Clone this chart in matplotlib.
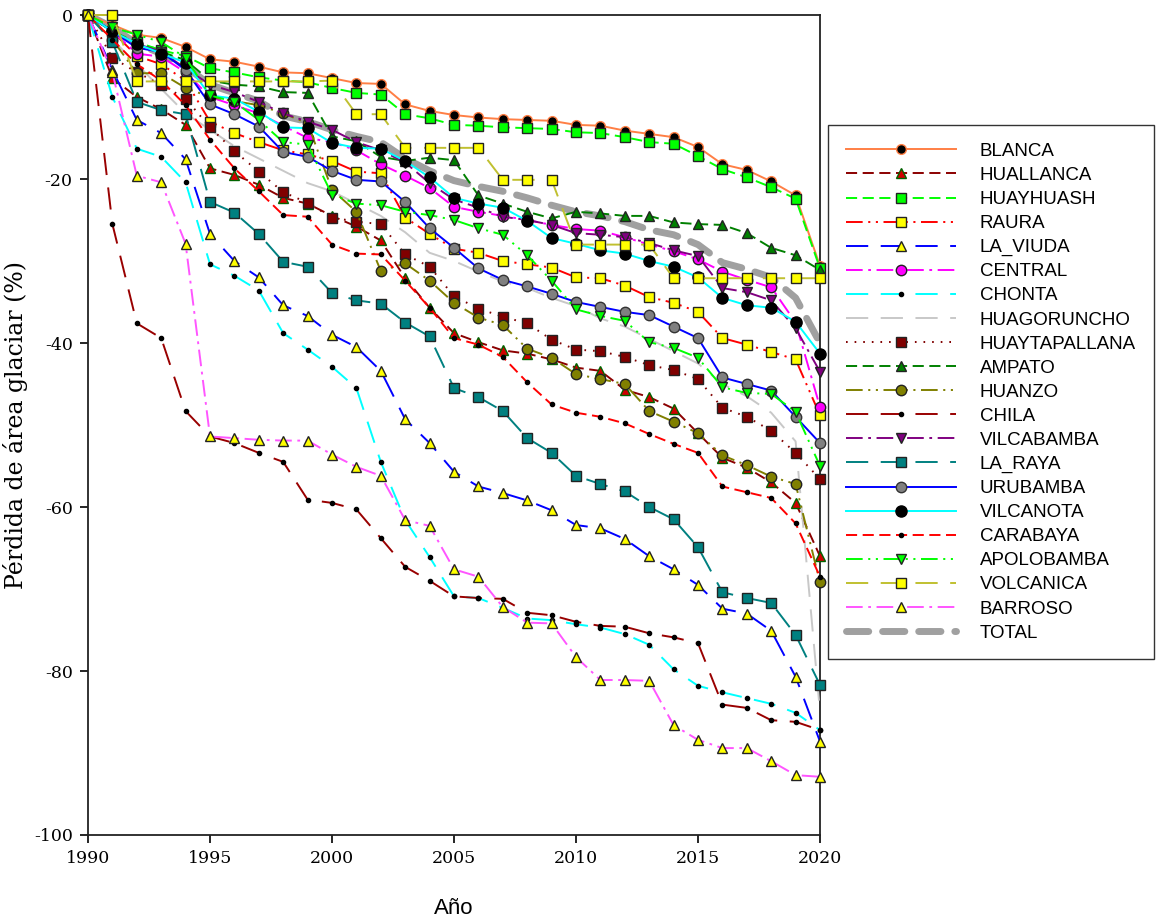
import matplotlib
matplotlib.use("Agg")
import matplotlib.pyplot as plt

plt.rcParams['lines.scale_dashes'] = False
plt.rcParams['axes.unicode_minus'] = False

years = list(range(1990, 2021))

blanca = [0, -1.2, -2.4, -2.8, -3.9, -5.4, -5.7, -6.3, -7.0, -7.1, -7.7, -8.3, -8.4, -10.9, -11.7, -12.2,
          -12.5, -12.7, -12.8, -12.9, -13.4, -13.5, -14.1, -14.5, -14.9, -16.1, -18.2, -18.9, -20.3, -22.0, -30.6]
huallanca = [0, -7.7, -10, -11.5, -13.4, -18.7, -19.5, -20.7, -22.3, -23, -24.5, -25.8, -27.5, -32.1, -35.7, -38.8,
             -39.9, -40.9, -41.3, -42, -43, -43.4, -45.7, -46.6, -48, -51, -54, -55.2, -57, -59.5, -66]
huayhuash = [0, -2, -3.3, -4.3, -5, -6.5, -7, -7.6, -8, -8.2, -8.9, -9.5, -9.7, -12.1, -12.6, -13.4,
             -13.5, -13.7, -13.8, -13.9, -14.3, -14.4, -14.9, -15.5, -15.7, -17.2, -18.8, -19.8, -21, -22.4, -30.9]
raura = [0, -2, -5, -6, -8, -13, -14.4, -15.5, -16.5, -17, -17.8, -19.1, -19.3, -24.7, -26.7, -28.5,
         -29, -30, -30.4, -30.8, -32, -32.1, -33, -34.4, -35.1, -36.2, -39.4, -40.2, -41.1, -42, -48.8]
la_viuda = [0, -6.7, -12.8, -14.4, -17.6, -26.7, -30, -32, -35.4, -36.7, -39, -40.5, -43.4, -49.3, -52.2, -55.7,
            -57.5, -58.3, -59.2, -60.4, -62.2, -62.6, -63.9, -66, -67.6, -69.5, -72.4, -73, -75.1, -80.7, -88.6]
central = [0, -2, -4.7, -5.1, -7, -10, -11, -12, -13.5, -15, -15.5, -16.5, -18.2, -19.6, -21.1, -23.4,
           -24, -24.5, -25, -25.6, -26.1, -26.3, -27.1, -28, -28.8, -29.8, -31.3, -32.3, -33.2, -37.5, -47.8]
chonta = [0, -10, -16.3, -17.3, -20.4, -30.4, -31.8, -33.6, -38.8, -40.8, -42.9, -45.5, -54.5, -61.6, -66.1, -70.9,
          -71.1, -72.3, -73.6, -73.8, -74.3, -74.7, -75.5, -76.8, -79.8, -81.8, -82.6, -83.3, -84, -85.1, -87.2]
huagoruncho = [0, -3, -6, -9, -12, -14, -16, -17.5, -19, -20.5, -21.5, -23, -24.5, -26.5, -29, -30,
               -31.3, -32.5, -33.3, -34.5, -35.5, -37, -38, -39.5, -41, -42.5, -45, -46.5, -48.5, -52, -85]
huaytapallana = [0, -5.2, -7, -8.5, -10.2, -13.7, -16.6, -19.1, -21.6, -22.9, -24.7, -25.2, -25.5, -29.2, -30.7, -34.3,
                 -35.8, -36.8, -37.6, -39.6, -40.8, -41, -41.7, -42.7, -43.3, -44.4, -47.9, -49, -50.7, -53.4, -56.6]
ampato = [0, -2, -3.5, -4.5, -5.5, -8, -8.5, -8.7, -9.4, -9.5, -14.8, -15.4, -17.3, -17.8, -17.4, -17.7,
          -22, -23, -24, -24.8, -24, -24.2, -24.5, -24.5, -25.3, -25.5, -25.6, -26.6, -28.4, -29.3, -31.1]
huanzo = [0, -3, -7.1, -7.1, -8.9, -10, -10.5, -11, -12, -13.2, -21.3, -24, -31.2, -30.3, -32.4, -35.1,
          -36.9, -37.8, -40.7, -41.8, -43.8, -44.4, -45, -48.3, -49.6, -51, -53.7, -54.9, -56.3, -57.2, -69.2]
chila = [0, -25.5, -37.6, -39.4, -48.3, -51.4, -52.2, -53.4, -54.5, -59.1, -59.5, -60.3, -63.8, -67.3, -69, -70.9,
         -71.1, -71.2, -72.9, -73.2, -74, -74.5, -74.6, -75.4, -75.9, -76.6, -84.1, -84.5, -86, -86.2, -87.2]
vilcabamba = [0, -2, -3.5, -4.5, -6.5, -8.5, -9.4, -10.6, -12, -13, -14, -15.5, -16.5, -18, -20.5, -22.5,
              -23.5, -24.6, -25, -25.6, -26.6, -26.8, -27.1, -27.8, -28.7, -29.4, -33.3, -33.8, -34.8, -38.2, -43.5]
la_raya = [0, -3.3, -10.6, -11.6, -12.1, -22.8, -24.1, -26.7, -30.1, -30.7, -33.9, -34.8, -35.2, -37.5, -39.2, -45.5,
           -46.6, -48.3, -51.6, -53.4, -56.2, -57.2, -58.1, -60, -61.5, -64.9, -70.4, -71.1, -71.7, -75.6, -81.7]
urubamba = [0, -2, -4, -4.5, -6.7, -10.9, -12.1, -13.6, -16.7, -17.3, -19, -20.1, -20.3, -22.8, -26, -28.4,
            -30.9, -32.3, -33.1, -34, -35, -35.6, -36.2, -36.6, -38, -39.4, -44.2, -45, -45.8, -49, -52.2]
vilcanota = [0, -2, -3.5, -4.7, -5.8, -9.8, -10.2, -11.8, -13.7, -13.8, -15.6, -16.2, -16.3, -17.8, -19.8, -22.3,
             -23, -23.5, -25.1, -27.2, -27.9, -28.7, -29.1, -30, -30.7, -32, -34.5, -35.4, -35.7, -37.4, -41.3]
carabaya = [0, -3, -6, -8, -11, -15.2, -18.7, -21.5, -24.4, -24.6, -28, -29.1, -29.2, -32.4, -35.7, -39.4,
            -40.2, -41.7, -44.8, -47.5, -48.5, -49, -49.8, -51.1, -52.3, -53.4, -57.5, -58.2, -58.9, -62, -68.5]
apolobamba = [0, -1.5, -2.4, -3.3, -5.2, -9.8, -10.6, -12.8, -15.5, -15.8, -21.9, -23, -23.2, -24, -24.4, -25,
              -26, -26.8, -29.3, -32.4, -35.9, -36.7, -37.3, -39.9, -40.6, -41.8, -45.4, -46.1, -46.2, -48.4, -55]
volcanica = [0, 0, -8.1, -8.1, -8.1, -8.1, -8.1, -8.1, -8.1, -8.1, -8.0, -12.1, -12.1, -16.2, -16.2, -16.2,
             -16.2, -20.1, -20.1, -20.1, -28, -28, -28, -28, -32.1, -32.1, -32.1, -32.1, -32.1, -32.1, -32.1]
barroso = [0, -7, -19.6, -20.4, -27.9, -51.4, -51.6, -51.8, -51.9, -51.9, -53.6, -55.1, -56.2, -61.6, -62.3, -67.6,
           -68.5, -72.2, -74.1, -74.2, -78.3, -81.1, -81.1, -81.2, -86.6, -88.4, -89.4, -89.4, -91, -92.7, -92.9]
total = [0, -1.5, -3.5, -4.7, -6.3, -8.5, -9.5, -10.5, -12.3, -13, -14, -14.8, -15.5, -17.5, -19, -20.2,
         -20.9, -21.5, -22.3, -23.2, -24, -24.5, -25.2, -26.2, -26.8, -28, -30.2, -31, -32, -34.5, -40]

DASH = (8, 4)
LONG = (16, 9)
DASHDOT = (12, 4, 2, 4)
DASHDOTDOT = (12, 4, 1.5, 4, 1.5, 4)

# name, values, line colour, dashes, marker, face, edge, marker size
series = [
    ('BLANCA', blanca, '#FF7F45', None, 'o', 'black', '#FF7F45', 7),
    ('HUALLANCA', huallanca, '#8B0000', DASH, '^', '#D00000', '#006400', 7),
    ('HUAYHUASH', huayhuash, '#00FF00', DASH, 's', '#00FF00', '#222222', 7),
    ('RAURA', raura, '#FF0000', DASHDOTDOT, 's', '#FFFF00', '#222222', 7),
    ('LA_VIUDA', la_viuda, '#0000FF', LONG, '^', '#FFFF00', '#222222', 7.5),
    ('CENTRAL', central, '#FF00FF', DASHDOT, 'o', '#FF00FF', '#222222', 7.5),
    ('CHONTA', chonta, '#00FFFF', LONG, 'o', 'black', 'black', 3),
    ('HUAGORUNCHO', huagoruncho, '#C8C8C8', LONG, None, None, None, 0),
    ('HUAYTAPALLANA', huaytapallana, '#800000', (1.2, 5), 's', '#800000', '#222222', 7),
    ('AMPATO', ampato, '#008000', DASH, '^', '#008000', '#222222', 7),
    ('HUANZO', huanzo, '#808000', DASHDOTDOT, 'o', '#808000', '#222222', 7.5),
    ('CHILA', chila, '#990000', LONG, 'o', 'black', 'black', 3),
    ('VILCABAMBA', vilcabamba, '#800080', DASHDOT, 'v', '#800080', '#222222', 7.5),
    ('LA_RAYA', la_raya, '#008080', LONG, 's', '#008080', '#222222', 7),
    ('URUBAMBA', urubamba, '#0000FF', None, 'o', '#808080', '#333333', 7.5),
    ('VILCANOTA', vilcanota, '#00FFFF', None, 'o', 'black', 'black', 8),
    ('CARABAYA', carabaya, '#FF0000', DASH, 'o', 'black', 'black', 3),
    ('APOLOBAMBA', apolobamba, '#00FF00', DASHDOTDOT, 'v', '#00FF00', '#222222', 7.5),
    ('VOLCANICA', volcanica, '#C0C030', LONG, 's', '#FFFF00', '#222222', 7),
    ('BARROSO', barroso, '#FF55FF', DASHDOT, '^', '#FFFF00', '#222222', 7.5),
]

fig = plt.figure(figsize=(11.63, 9.19), dpi=100)
ax = fig.add_axes([88 / 1163, 1 - 835 / 919, (820 - 88) / 1163, (835 - 15) / 919])

for name, vals, col, dashes, mk, fc, ec, ms in series:
    line, = ax.plot(years, vals, color=col, lw=1.4, marker=mk, markerfacecolor=fc,
                    markeredgecolor=ec, markersize=ms, markeredgewidth=1.0,
                    label=name, clip_on=False, zorder=3)
    if dashes is not None:
        line.set_dashes(dashes)

tl, = ax.plot(years, total, color='#A0A0A0', lw=5, label='TOTAL', zorder=2.5,
              solid_capstyle='round', dash_capstyle='round')
tl.set_dashes((16, 10))

ax.set_xlim(1990, 2020)
ax.set_ylim(-100, 0)
ax.set_xticks(range(1990, 2021, 5))
ax.set_yticks(range(-100, 1, 20))
ax.tick_params(direction='out', length=6, width=1.2, top=False, right=False, labelsize=12.5, pad=5)
for lab in ax.get_xticklabels() + ax.get_yticklabels():
    lab.set_family('DejaVu Serif')
for sp in ax.spines.values():
    sp.set_linewidth(1.3)
    sp.set_color('#222222')

ax.set_ylabel('Pérdida de área glaciar (%)', family='DejaVu Serif', fontsize=17, labelpad=4)
ax.set_xlabel('Año', family='Liberation Sans', fontsize=16, labelpad=22)

leg = ax.legend(loc='upper left', bbox_to_anchor=(828 / 1163, 1 - 125 / 919),
                bbox_transform=fig.transFigure, frameon=True, fancybox=False,
                edgecolor='black', borderaxespad=0, borderpad=0.95, handlelength=5.9,
                handletextpad=1.25, labelspacing=0.37,
                prop={'family': 'Liberation Sans', 'size': 13.5})
leg.get_frame().set_linewidth(1.0)

fig.savefig('out.png', dpi=100)
